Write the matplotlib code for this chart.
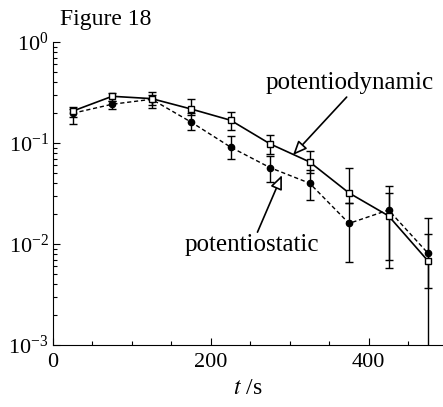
import matplotlib
matplotlib.use("Agg")
import matplotlib.pyplot as plt
from matplotlib.ticker import MultipleLocator, FixedLocator, LogLocator, NullFormatter

plt.rcParams['font.family'] = ['Liberation Serif', 'DejaVu Serif']
plt.rcParams['mathtext.fontset'] = 'stix'

# sampling times (s)
t = [25, 75, 125, 175, 225, 275, 325, 375, 425, 475]

# potentiodynamic run: mean and error-bar limits
dyn = [0.207, 0.29, 0.275, 0.217, 0.168, 0.098, 0.065, 0.032, 0.019, 0.0068]
dyn_hi = [0.225, 0.31, 0.32, 0.27, 0.203, 0.119, 0.084, 0.057, 0.0375, 0.0125]
dyn_lo = [0.18, 0.26, 0.24, 0.19, 0.134, 0.077, 0.050, 0.0255, 0.0058, 0.0001]

# potentiostatic run
stat = [0.197, 0.242, 0.271, 0.161, 0.091, 0.057, 0.040, 0.016, 0.0217, 0.0081]
stat_hi = [0.215, 0.26, 0.30, 0.20, 0.116, 0.075, 0.054, 0.0255, 0.032, 0.018]
stat_lo = [0.155, 0.217, 0.22, 0.136, 0.069, 0.041, 0.027, 0.0067, 0.0069, 0.0037]


def err(y, lo, hi):
    return [[a - b for a, b in zip(y, lo)], [b - a for a, b in zip(y, hi)]]


fig = plt.figure(figsize=(4.43, 4.07), dpi=100)
ax = fig.add_axes([0.1196, 0.1523, 0.8804, 0.7445])

ax.errorbar(t, stat, yerr=err(stat, stat_lo, stat_hi), fmt='o', color='black',
            ls=(0, (3, 2)), lw=1.0, ms=4.5, capsize=3, elinewidth=1.0,
            capthick=1.0, zorder=3)
ax.errorbar(t, dyn, yerr=err(dyn, dyn_lo, dyn_hi), fmt='s', color='black',
            mfc='white', ls='-', lw=1.2, ms=4.5, capsize=3, elinewidth=1.0,
            capthick=1.0, zorder=4)

ax.set_yscale('log')
ax.set_ylim(1e-3, 1)
ax.set_xlim(0, 494)

ax.xaxis.set_major_locator(FixedLocator([0, 200, 400]))
ax.xaxis.set_minor_locator(MultipleLocator(50))
ax.yaxis.set_major_locator(LogLocator(base=10))
ax.yaxis.set_minor_locator(LogLocator(base=10, subs=range(2, 10)))
ax.yaxis.set_minor_formatter(NullFormatter())
ax.tick_params(which='both', direction='in', labelsize=16, width=0.8)
ax.tick_params(which='major', length=5, pad=6)
ax.tick_params(which='minor', length=3)
ax.tick_params(axis='y', pad=3)

for s in ['top', 'right']:
    ax.spines[s].set_visible(False)

ax.set_xlabel('$t$ /s', fontsize=17, labelpad=4)

# open-headed pointer arrows for the two curve labels
arrow = dict(arrowstyle='-|>,head_length=0.7,head_width=0.3', fc='white',
             ec='black', lw=1.2, mutation_scale=12, shrinkA=0, shrinkB=0)
ax.annotate('', xy=(304, 0.076), xytext=(372, 0.285), arrowprops=arrow)
ax.annotate('', xy=(290, 0.048), xytext=(259, 0.0131), arrowprops=arrow)
ax.text(376, 0.393, 'potentiodynamic', fontsize=18, ha='center', va='center')
ax.text(252, 0.0098, 'potentiostatic', fontsize=18, ha='center', va='center')

fig.text(60 / 443, 1 - 20 / 407, 'Figure 18', fontsize=17, ha='left', va='center')

fig.savefig('out.png', dpi=100)
